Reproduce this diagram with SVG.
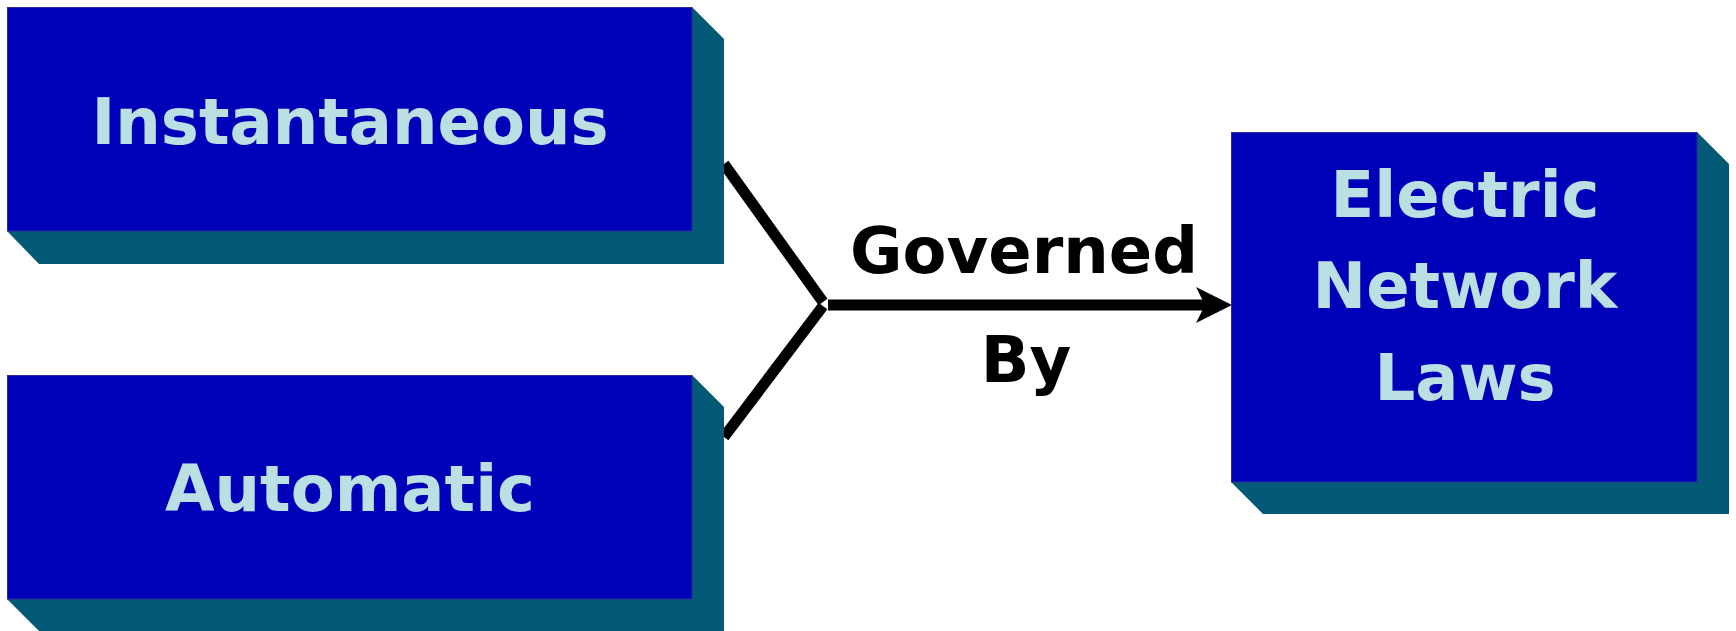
<svg xmlns="http://www.w3.org/2000/svg" width="1736" height="631" viewBox="0 0 1736 631">
<style>
.face{fill:#0000B9;stroke:#2a2a9a;stroke-width:1}
.shadow{fill:#025A76}
.lbl{font-family:"DejaVu Sans","Liberation Sans",sans-serif;font-weight:bold;font-size:64px;fill:#BBE0E3;text-anchor:middle}
.elbl{font-family:"DejaVu Sans","Liberation Sans",sans-serif;font-weight:bold;font-size:64px;fill:#000;text-anchor:middle}
.conn{stroke:#000;stroke-width:11;fill:none}
</style>
<rect width="1736" height="631" fill="#fff"/>
<g id="connectors">
<polyline class="conn" points="724,164 823,302"/>
<polyline class="conn" points="724,437 823,306"/>
<line class="conn" x1="828" y1="305" x2="1206" y2="305"/>
<polygon points="1232,305 1196,287 1205,305 1196,323" fill="#000"/>
<text class="elbl" x="1024" y="273">Governed</text>
<text class="elbl" x="1026" y="382">By</text>
</g>
<g id="node-instantaneous">
<polygon class="shadow" points="692,7 724,39 724,264 39,264 7,231 692,231"/>
<rect class="face" x="7.5" y="7.5" width="684.5" height="223.5"/>
<text class="lbl" x="350" y="144">Instantaneous</text>
</g>
<g id="node-automatic">
<polygon class="shadow" points="692,375 724,407 724,631 39,631 7,599 692,599"/>
<rect class="face" x="7.5" y="375.5" width="684.5" height="223.5"/>
<text class="lbl" x="350" y="511">Automatic</text>
</g>
<g id="node-laws">
<polygon class="shadow" points="1697,132 1729,164 1729,514 1263,514 1231,482 1697,482"/>
<rect class="face" x="1231.5" y="132.5" width="465.5" height="349.5"/>
<text class="lbl" x="1465" y="217">Electric</text>
<text class="lbl" x="1465" y="308">Network</text>
<text class="lbl" x="1465" y="400">Laws</text>
</g>
</svg>
